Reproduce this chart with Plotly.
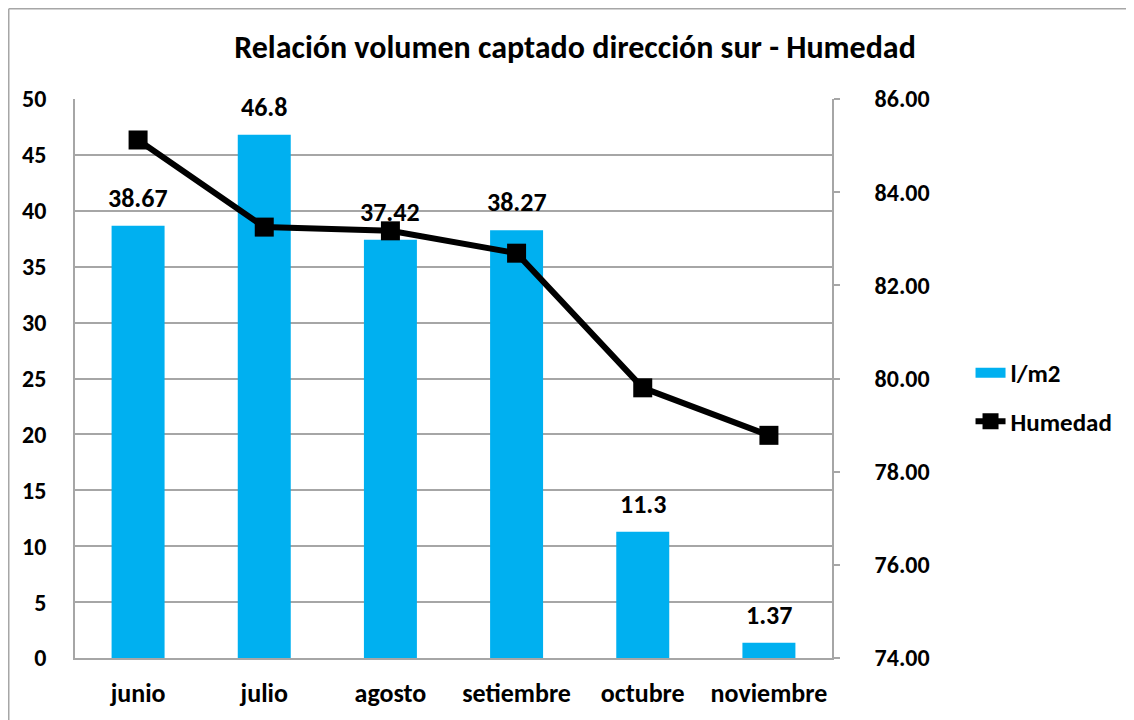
import plotly.graph_objects as go

months = ["junio", "julio", "agosto", "setiembre", "octubre", "noviembre"]
volumen = [38.67, 46.8, 37.42, 38.27, 11.3, 1.37]
volumen_labels = ["38.67", "46.8", "37.42", "38.27", "11.3", "1.37"]
humedad = [85.12, 83.25, 83.17, 82.69, 79.80, 78.78]
left_ticks = [0, 5, 10, 15, 20, 25, 30, 35, 40, 45, 50]
right_ticks = [74, 76, 78, 80, 82, 84, 86]

FONT = "Calibri, Carlito, Lato, sans-serif"
GRID = "#A6A6A6"
BLUE = "#00B0F0"

W, H = 1126, 712           # page body has an 8px margin
L, T = 67, 91
PW, PH = 757, 559

def f(size):
    return dict(family=FONT, size=size, color="black", weight="bold")

fig = go.Figure()
fig.add_trace(go.Bar(
    x=months, y=volumen, name="l/m2", marker_color=BLUE,
    marker_line_width=0, width=0.42, yaxis="y", showlegend=False,
))
# legend entry drawn as a thick line swatch for the bar series
fig.add_trace(go.Scatter(
    x=[None], y=[None], name="l/m2", mode="lines",
    line=dict(color=BLUE, width=16), legendgroup="a",
))
fig.add_trace(go.Scatter(
    x=months, y=humedad, name="Humedad", yaxis="y2", mode="lines+markers",
    line=dict(color="black", width=6), legendgroup="b",
    marker=dict(symbol="square", size=19, color="black"),
))

for m, v, t in zip(months, volumen, volumen_labels):
    fig.add_annotation(x=m, y=v, xref="x", yref="y", text=t, showarrow=False,
                       yshift=28, yanchor="middle", font=f(26))

fig.update_layout(
    width=W, height=H,
    margin=dict(l=L, r=W - L - PW, t=T, b=H - T - PH),
    paper_bgcolor="white", plot_bgcolor="white",
    font=f(24),
    title=dict(text="Relación volumen captado dirección sur - Humedad",
               x=567 / W, xanchor="center", y=1 - 39 / H, yanchor="middle",
               font=f(32)),
    showlegend=True,
    legend=dict(x=1.183, y=0.467, xanchor="left", yanchor="middle",
                font=f(25), traceorder="grouped", tracegroupgap=13,
                bgcolor="rgba(0,0,0,0)"),
    xaxis=dict(showgrid=False, showline=True, linecolor=GRID, linewidth=1.5,
               ticks="", tickfont=f(26), ticklabelstandoff=11),
    yaxis=dict(range=[0, 50], tickvals=left_ticks, showgrid=True, gridcolor=GRID,
               gridwidth=1.5, showline=True, linecolor=GRID, linewidth=1.5,
               ticks="", zeroline=False, tickfont=f(24), ticklabelstandoff=22),
    yaxis2=dict(range=[74, 86], tickvals=right_ticks, tickformat=".2f",
                overlaying="y", side="right", showgrid=False, showline=True,
                linecolor=GRID, linewidth=1.5, ticks="outside", ticklen=6,
                tickcolor=GRID, tickwidth=1.5, zeroline=False,
                tickfont=f(24), ticklabelstandoff=30),
)

# outer chart border (left and top edges; right/bottom fall outside the view)
fig.add_shape(type="line", xref="paper", yref="paper",
              x0=(0.75 - L) / PW, x1=(0.75 - L) / PW,
              y0=-(H - T - PH) / PH, y1=1 + (T - 0.75) / PH,
              line=dict(color=GRID, width=1.5))
fig.add_shape(type="line", xref="paper", yref="paper",
              x0=(0.75 - L) / PW, x1=(W - L) / PW,
              y0=1 + (T - 0.75) / PH, y1=1 + (T - 0.75) / PH,
              line=dict(color=GRID, width=1.5))

fig.write_html("out.html")
